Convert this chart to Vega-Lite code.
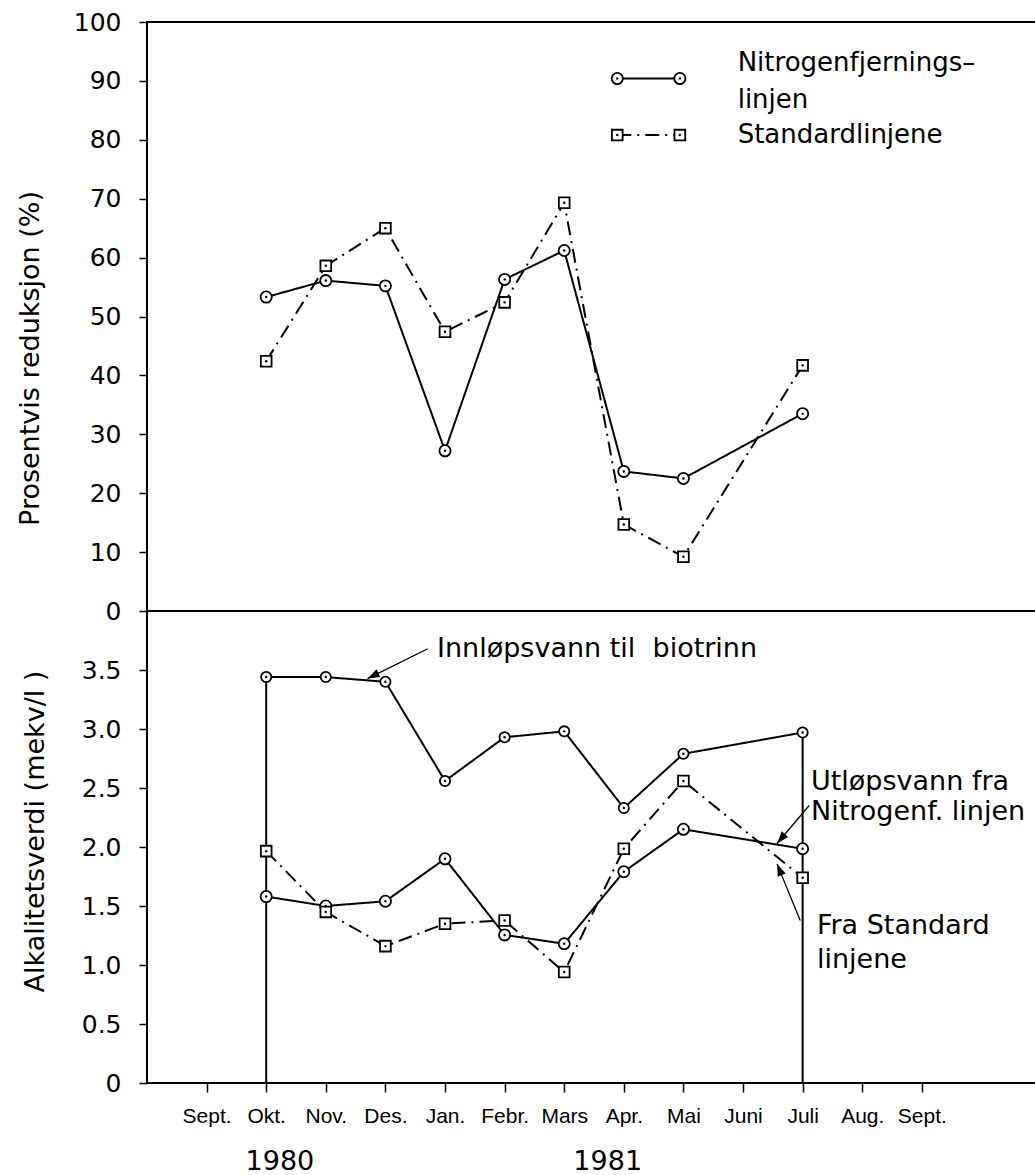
{
  "$schema": "https://vega.github.io/schema/vega-lite/v6.json",
  "background": "white",
  "padding": {"left": 15, "top": 9, "right": 0, "bottom": 0},
  "spacing": 0,
  "bounds": "flush",
  "config": {
    "view": {"stroke": "black", "strokeWidth": 2},
    "font": "DejaVu Sans",
    "axis": {
      "grid": false, "domain": false, "tickColor": "black", "tickWidth": 1.5, "tickSize": 8,
      "labelColor": "black", "titleColor": "black", "labelFont": "DejaVu Sans", "labelFontSize": 25,
      "labelPadding": 18, "titleFont": "DejaVu Sans", "titleFontSize": 27, "titleFontWeight": "normal",
      "labelFlush": false, "labelOverlap": false
    }
  },
  "datasets": {
    "top": [
      {"serie": "N", "m": 1, "v": 53.3}, {"serie": "N", "m": 2, "v": 56.1}, {"serie": "N", "m": 3, "v": 55.2},
      {"serie": "N", "m": 4, "v": 27.2}, {"serie": "N", "m": 5, "v": 56.3}, {"serie": "N", "m": 6, "v": 61.2},
      {"serie": "N", "m": 7, "v": 23.7}, {"serie": "N", "m": 8, "v": 22.5}, {"serie": "N", "m": 10, "v": 33.5},
      {"serie": "S", "m": 1, "v": 42.4}, {"serie": "S", "m": 2, "v": 58.6}, {"serie": "S", "m": 3, "v": 65.0},
      {"serie": "S", "m": 4, "v": 47.4}, {"serie": "S", "m": 5, "v": 52.4}, {"serie": "S", "m": 6, "v": 69.3},
      {"serie": "S", "m": 7, "v": 14.7}, {"serie": "S", "m": 8, "v": 9.2}, {"serie": "S", "m": 10, "v": 41.7}
    ],
    "legTop": [
      {"serie": "N", "m": 6.89, "v": 90.4}, {"serie": "N", "m": 7.94, "v": 90.4},
      {"serie": "S", "m": 6.89, "v": 80.8}, {"serie": "S", "m": 7.94, "v": 80.8}
    ],
    "legText": [
      {"t": "Nitrogenfjernings–", "m": 8.91, "v": 93.0},
      {"t": "linjen", "m": 8.91, "v": 86.7},
      {"t": "Standardlinjene", "m": 8.91, "v": 80.8}
    ],
    "bottom": [
      {"serie": "I", "m": 1, "v": 3.44}, {"serie": "I", "m": 2, "v": 3.44}, {"serie": "I", "m": 3, "v": 3.40},
      {"serie": "I", "m": 4, "v": 2.56}, {"serie": "I", "m": 5, "v": 2.93}, {"serie": "I", "m": 6, "v": 2.98},
      {"serie": "I", "m": 7, "v": 2.33}, {"serie": "I", "m": 8, "v": 2.79}, {"serie": "I", "m": 10, "v": 2.97},
      {"serie": "N", "m": 1, "v": 1.58}, {"serie": "N", "m": 2, "v": 1.50}, {"serie": "N", "m": 3, "v": 1.54},
      {"serie": "N", "m": 4, "v": 1.90}, {"serie": "N", "m": 5, "v": 1.255}, {"serie": "N", "m": 6, "v": 1.18},
      {"serie": "N", "m": 7, "v": 1.79}, {"serie": "N", "m": 8, "v": 2.15}, {"serie": "N", "m": 10, "v": 1.985},
      {"serie": "S", "m": 1, "v": 1.965}, {"serie": "S", "m": 2, "v": 1.45}, {"serie": "S", "m": 3, "v": 1.16},
      {"serie": "S", "m": 4, "v": 1.35}, {"serie": "S", "m": 5, "v": 1.377}, {"serie": "S", "m": 6, "v": 0.94},
      {"serie": "S", "m": 7, "v": 1.985}, {"serie": "S", "m": 8, "v": 2.56}, {"serie": "S", "m": 10, "v": 1.74}
    ],
    "drops": [{"m": 1, "v": 3.44}, {"m": 10, "v": 2.97}],
    "arrows": [
      {"a": "inn", "m": 3.71, "v": 3.68, "m2": 2.70, "v2": 3.427},
      {"a": "utl", "m": 10.11, "v": 2.352, "m2": 9.57, "v2": 2.03},
      {"a": "fra", "m": 9.96, "v": 1.377, "m2": 9.57, "v2": 1.857}
    ],
    "heads": [
      {"a": "inn", "m": 2.70, "v": 3.427},
      {"a": "utl", "m": 9.57, "v": 2.03},
      {"a": "fra", "m": 9.57, "v": 1.857}
    ],
    "notes": [
      {"t": "Innløpsvann til\u00a0 biotrinn", "m": 3.866, "v": 3.68},
      {"t": "Utløpsvann fra", "m": 10.14, "v": 2.55},
      {"t": "Nitrogenf. linjen", "m": 10.14, "v": 2.295},
      {"t": "Fra Standard", "m": 10.24, "v": 1.334},
      {"t": "linjene", "m": 10.24, "v": 1.04}
    ],
    "years": [
      {"t": "1980", "m": 1.23, "v": -0.673},
      {"t": "1981", "m": 6.73, "v": -0.673}
    ]
  },
  "vconcat": [
    {
      "width": 900,
      "height": 589,
      "encoding": {
        "x": {"field": "m", "type": "quantitative", "scale": {"domain": [-1, 14.1], "nice": false, "zero": false}, "axis": null},
        "y": {"field": "v", "type": "quantitative", "scale": {"domain": [0, 100], "nice": false, "zero": false},
          "axis": {"title": "Prosentvis reduksjon (%)", "values": [0, 10, 20, 30, 40, 50, 60, 70, 80, 90, 100],
            "titleX": -117, "titleY": 336, "titleAngle": -90, "titleAlign": "center", "titleBaseline": "middle"}}
      },
      "layer": [
        {"data": {"name": "top"}, "mark": {"type": "line", "color": "black", "strokeWidth": 2},
          "encoding": {"detail": {"field": "serie"},
            "strokeDash": {"field": "serie", "type": "nominal", "scale": {"domain": ["N", "S"], "range": [[1, 0], [14, 6, 2, 6]]}, "legend": null}}},
        {"data": {"name": "top"}, "mark": {"type": "point", "filled": true, "fill": "white", "stroke": "black", "strokeWidth": 1.8, "opacity": 1},
          "encoding": {"shape": {"field": "serie", "type": "nominal", "scale": {"domain": ["N", "S"], "range": ["circle", "square"]}, "legend": null},
            "size": {"field": "serie", "type": "nominal", "scale": {"domain": ["N", "S"], "range": [125, 105]}, "legend": null}}},
        {"data": {"name": "top"}, "mark": {"type": "point", "filled": true, "color": "black", "size": 6, "opacity": 1}},
        {"data": {"name": "legTop"}, "mark": {"type": "line", "color": "black", "strokeWidth": 2},
          "encoding": {"detail": {"field": "serie"},
            "strokeDash": {"field": "serie", "type": "nominal", "scale": {"domain": ["N", "S"], "range": [[1, 0], [14, 6, 2, 6]]}, "legend": null}}},
        {"data": {"name": "legTop"}, "mark": {"type": "point", "filled": true, "fill": "white", "stroke": "black", "strokeWidth": 1.8, "opacity": 1},
          "encoding": {"shape": {"field": "serie", "type": "nominal", "scale": {"domain": ["N", "S"], "range": ["circle", "square"]}, "legend": null},
            "size": {"field": "serie", "type": "nominal", "scale": {"domain": ["N", "S"], "range": [125, 105]}, "legend": null}}},
        {"data": {"name": "legTop"}, "mark": {"type": "point", "filled": true, "color": "black", "size": 6, "opacity": 1}},
        {"data": {"name": "legText"}, "mark": {"type": "text", "align": "left", "baseline": "middle", "font": "DejaVu Sans", "fontSize": 26, "color": "black"},
          "encoding": {"text": {"field": "t"}}}
      ]
    },
    {
      "width": 900,
      "height": 472,
      "encoding": {
        "x": {"field": "m", "type": "quantitative", "scale": {"domain": [-1, 14.1], "nice": false, "zero": false},
          "axis": {"title": null, "values": [0, 1, 2, 3, 4, 5, 6, 7, 8, 9, 10, 11, 12],
            "labelExpr": "['Sept.','Okt.','Nov.','Des.','Jan.','Febr.','Mars','Apr.','Mai','Juni','Juli','Aug.','Sept.'][datum.value]",
            "tickSize": 9, "labelFont": "Liberation Sans", "labelFontSize": 21, "labelPadding": 13}},
        "y": {"field": "v", "type": "quantitative", "scale": {"domain": [0, 4], "nice": false, "zero": false},
          "axis": {"title": "Alkalitetsverdi (mekv/l )", "values": [0, 0.5, 1, 1.5, 2, 2.5, 3, 3.5],
            "labelExpr": "datum.value == 0 ? '0' : format(datum.value, '.1f')",
            "titleX": -112, "titleY": 220, "titleAngle": -90, "titleAlign": "center", "titleBaseline": "middle"}}
      },
      "layer": [
        {"data": {"name": "drops"}, "mark": {"type": "rule", "color": "black", "strokeWidth": 2},
          "encoding": {"y2": {"datum": 0}}},
        {"data": {"name": "bottom"}, "mark": {"type": "line", "color": "black", "strokeWidth": 2},
          "encoding": {"detail": {"field": "serie"},
            "strokeDash": {"field": "serie", "type": "nominal", "scale": {"domain": ["I", "N", "S"], "range": [[1, 0], [1, 0], [14, 6, 2, 6]]}, "legend": null}}},
        {"data": {"name": "bottom"}, "mark": {"type": "point", "filled": true, "fill": "white", "stroke": "black", "strokeWidth": 1.8, "opacity": 1},
          "encoding": {"shape": {"field": "serie", "type": "nominal", "scale": {"domain": ["I", "N", "S"], "range": ["triangle-up", "circle", "square"]}, "legend": null},
            "size": {"field": "serie", "type": "nominal", "scale": {"domain": ["I", "N", "S"], "range": [150, 125, 105]}, "legend": null}}},
        {"data": {"name": "bottom"}, "mark": {"type": "point", "filled": true, "color": "black", "size": 6, "opacity": 1}},
        {"data": {"name": "arrows"}, "mark": {"type": "rule", "color": "black", "strokeWidth": 1.3},
          "encoding": {"x2": {"field": "m2"}, "y2": {"field": "v2"}}},
        {"data": {"name": "heads"}, "transform": [{"filter": "datum.a == 'inn'"}],
          "mark": {"type": "point", "filled": true, "color": "black", "opacity": 1, "shape": "M0,0L0.35,1L-0.35,1Z", "size": 600, "angle": 243.4}},
        {"data": {"name": "heads"}, "transform": [{"filter": "datum.a == 'utl'"}],
          "mark": {"type": "point", "filled": true, "color": "black", "opacity": 1, "shape": "M0,0L0.35,1L-0.35,1Z", "size": 600, "angle": 220.6}},
        {"data": {"name": "heads"}, "transform": [{"filter": "datum.a == 'fra'"}],
          "mark": {"type": "point", "filled": true, "color": "black", "opacity": 1, "shape": "M0,0L0.35,1L-0.35,1Z", "size": 600, "angle": 337.7}},
        {"data": {"name": "notes"}, "mark": {"type": "text", "align": "left", "baseline": "middle", "font": "DejaVu Sans", "fontSize": 27, "color": "black"},
          "encoding": {"text": {"field": "t"}}},
        {"data": {"name": "years"}, "mark": {"type": "text", "align": "center", "baseline": "middle", "font": "DejaVu Sans", "fontSize": 27, "color": "black"},
          "encoding": {"text": {"field": "t"}}}
      ]
    }
  ]
}
